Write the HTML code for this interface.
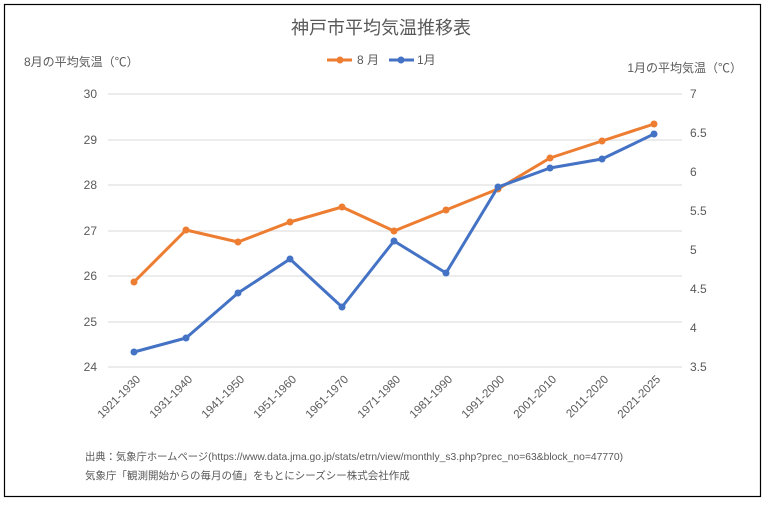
<!DOCTYPE html>
<html><head><meta charset="utf-8"><style>
body{margin:0;background:#fff}
svg text{font-family:"Liberation Sans","Noto Sans CJK JP",sans-serif;fill:#595959}
</style></head><body>
<svg width="766" height="502" xmlns="http://www.w3.org/2000/svg">
<rect x="4.5" y="4.5" width="756" height="492" fill="#fff" stroke="#000" stroke-width="1.2"/>
<text x="381" y="34" font-size="18" text-anchor="middle">神戸市平均気温推移表</text>
<text x="24" y="66" font-size="12" fill="#404040">8月の平均気温（℃）</text>
<text x="742" y="72" font-size="12" text-anchor="end">1月の平均気温（℃）</text>
<line x1="327" y1="60" x2="352" y2="60" stroke="#ED7D31" stroke-width="3"/><circle cx="340" cy="60" r="3.5" fill="#ED7D31"/>
<text x="357" y="64" font-size="12">8 月</text>
<line x1="389" y1="60" x2="414" y2="60" stroke="#4472C4" stroke-width="3"/><circle cx="401" cy="60" r="3.5" fill="#4472C4"/>
<text x="417" y="64" font-size="12">1月</text>
<g stroke="#d9d9d9" stroke-width="1">
<line x1="108" y1="94" x2="682" y2="94"/><line x1="108" y1="140" x2="682" y2="140"/><line x1="108" y1="185" x2="682" y2="185"/><line x1="108" y1="231" x2="682" y2="231"/><line x1="108" y1="276" x2="682" y2="276"/><line x1="108" y1="322" x2="682" y2="322"/><line x1="108" y1="367" x2="682" y2="367"/>
</g>
<g font-size="12" text-anchor="end">
<text x="97" y="98">30</text><text x="97" y="144">29</text><text x="97" y="189">28</text><text x="97" y="235">27</text><text x="97" y="280">26</text><text x="97" y="326">25</text><text x="97" y="371">24</text>
</g>
<g font-size="12">
<text x="690" y="98">7</text><text x="690" y="137">6.5</text><text x="690" y="176">6</text><text x="690" y="215">5.5</text><text x="690" y="254">5</text><text x="690" y="293">4.5</text><text x="690" y="332">4</text><text x="690" y="371">3.5</text>
</g>
<g font-size="11.5" text-anchor="end">
<text transform="translate(141,380) rotate(-45)">1921-1930</text>
<text transform="translate(193,380) rotate(-45)">1931-1940</text>
<text transform="translate(245,380) rotate(-45)">1941-1950</text>
<text transform="translate(297,380) rotate(-45)">1951-1960</text>
<text transform="translate(349,380) rotate(-45)">1961-1970</text>
<text transform="translate(401,380) rotate(-45)">1971-1980</text>
<text transform="translate(453,380) rotate(-45)">1981-1990</text>
<text transform="translate(505,380) rotate(-45)">1991-2000</text>
<text transform="translate(557,380) rotate(-45)">2001-2010</text>
<text transform="translate(609,380) rotate(-45)">2011-2020</text>
<text transform="translate(661,380) rotate(-45)">2021-2025</text>
</g>
<polyline fill="none" stroke="#ED7D31" stroke-width="3" stroke-linejoin="round" points="134,282 186,230 238,242 290,222 342,207 394,231 446,210 498,189 550,158 602,141 654,124"/>
<g fill="#ED7D31"><circle cx="134" cy="282" r="3.5"/><circle cx="186" cy="230" r="3.5"/><circle cx="238" cy="242" r="3.5"/><circle cx="290" cy="222" r="3.5"/><circle cx="342" cy="207" r="3.5"/><circle cx="394" cy="231" r="3.5"/><circle cx="446" cy="210" r="3.5"/><circle cx="498" cy="189" r="3.5"/><circle cx="550" cy="158" r="3.5"/><circle cx="602" cy="141" r="3.5"/><circle cx="654" cy="124" r="3.5"/></g>
<polyline fill="none" stroke="#4472C4" stroke-width="3" stroke-linejoin="round" points="134,352 186,338 238,293 290,259 342,307 394,241 446,273 498,187 550,168 602,159 654,134"/>
<g fill="#4472C4"><circle cx="134" cy="352" r="3.5"/><circle cx="186" cy="338" r="3.5"/><circle cx="238" cy="293" r="3.5"/><circle cx="290" cy="259" r="3.5"/><circle cx="342" cy="307" r="3.5"/><circle cx="394" cy="241" r="3.5"/><circle cx="446" cy="273" r="3.5"/><circle cx="498" cy="187" r="3.5"/><circle cx="550" cy="168" r="3.5"/><circle cx="602" cy="159" r="3.5"/><circle cx="654" cy="134" r="3.5"/></g>
<text x="85" y="460" font-size="10.5" fill="#000" textLength="538" lengthAdjust="spacingAndGlyphs">出典：気象庁ホームページ(https://www.data.jma.go.jp/stats/etrn/view/monthly_s3.php?prec_no=63&amp;block_no=47770)</text>
<text x="85" y="479" font-size="10.5" fill="#000">気象庁「観測開始からの毎月の値」をもとにシーズシー株式会社作成</text>
</svg>
</body></html>
